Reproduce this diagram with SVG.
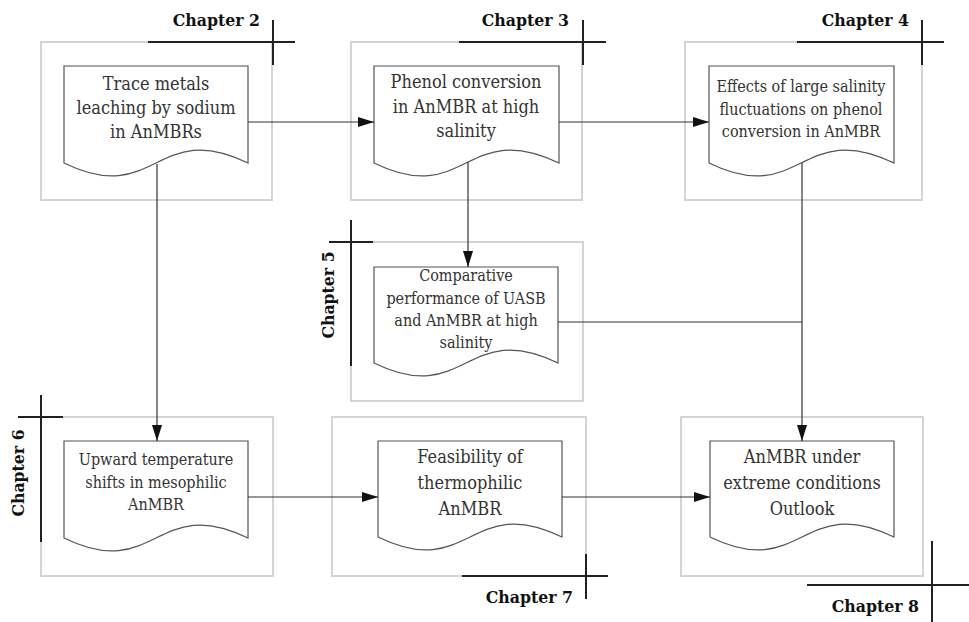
<svg xmlns="http://www.w3.org/2000/svg" width="969" height="622" viewBox="0 0 969 622">
<defs>
<marker id="arr" markerUnits="userSpaceOnUse" markerWidth="16" markerHeight="10" refX="16" refY="5" orient="auto"><path d="M0,0 L16,5 L0,10 z" fill="#111"/></marker>
<style>
.box{fill:none;stroke:#d4d4d4;stroke-width:2}
.doc{fill:#fff;stroke:#555;stroke-width:1.2}
.cross{stroke:#222;stroke-width:2;fill:none}
.con{stroke:#333;stroke-width:1.2;fill:none}
text{font-family:'DejaVu Serif Condensed','DejaVu Serif',serif;font-stretch:condensed}
.t{fill:#333;text-anchor:middle}
.t20{font-size:18px}
.t18{font-size:16px}
.ch{font-weight:bold;font-size:17.5px;fill:#111}
</style>
</defs>
<rect width="969" height="622" fill="#fff"/>

<g id="ch2">
<rect class="box" x="41" y="42" width="231" height="158"/>
<path class="cross" d="M148,42 H295 M273,20 V65"/>
<text class="ch" x="260" y="26" text-anchor="end">Chapter 2</text>
<path class="doc" d="M64,163 V66 H248 V163 C156,118 156,208 64,163 Z"/>
<text class="t t20"><tspan x="156" y="90">Trace metals</tspan><tspan x="156" y="114">leaching by sodium</tspan><tspan x="156" y="138">in AnMBRs</tspan></text>
</g>

<g id="ch3">
<rect class="box" x="351" y="42" width="231" height="158"/>
<path class="cross" d="M459,42 H606 M583,20 V65"/>
<text class="ch" x="569" y="26" text-anchor="end">Chapter 3</text>
<path class="doc" d="M374,163 V66 H559 V163 C466,118 466,208 374,163 Z"/>
<text class="t t20"><tspan x="466" y="88">Phenol conversion</tspan><tspan x="466" y="113">in AnMBR at high</tspan><tspan x="466" y="137">salinity</tspan></text>
</g>

<g id="ch4">
<rect class="box" x="685" y="42" width="237" height="158"/>
<path class="cross" d="M797,42 H944 M922,20 V65"/>
<text class="ch" x="909" y="26" text-anchor="end">Chapter 4</text>
<path class="doc" d="M709,163 V66 H894 V163 C801,118 801,208 709,163 Z"/>
<text class="t t18"><tspan x="801" y="92">Effects of large salinity</tspan><tspan x="801" y="115">fluctuations on phenol</tspan><tspan x="801" y="137">conversion in AnMBR</tspan></text>
</g>

<g id="ch5">
<rect class="box" x="351" y="242" width="232" height="159"/>
<path class="cross" d="M329,242 H373 M351,220 V366"/>
<text class="ch" transform="translate(334,295) rotate(-90)" text-anchor="middle">Chapter 5</text>
<path class="doc" d="M374,363 V267 H558 V363 C466,318 466,408 374,363 Z"/>
<text class="t t18"><tspan x="466" y="281">Comparative</tspan><tspan x="466" y="304">performance of UASB</tspan><tspan x="466" y="326">and AnMBR at high</tspan><tspan x="466" y="348">salinity</tspan></text>
</g>

<g id="ch6">
<rect class="box" x="41" y="417" width="232" height="159"/>
<path class="cross" d="M18,417 H63 M41,395 V542"/>
<text class="ch" transform="translate(24,473) rotate(-90)" text-anchor="middle">Chapter 6</text>
<path class="doc" d="M64,538 V441 H248 V538 C156,493 156,583 64,538 Z"/>
<text class="t t18"><tspan x="156" y="465">Upward temperature</tspan><tspan x="156" y="488">shifts in mesophilic</tspan><tspan x="156" y="510">AnMBR</tspan></text>
</g>

<g id="ch7">
<rect class="box" x="332" y="417" width="254" height="159"/>
<path class="cross" d="M462,576 H608 M586,554 V599"/>
<text class="ch" x="573" y="603" text-anchor="end">Chapter 7</text>
<path class="doc" d="M378,537 V441 H562 V537 C470,492 470,582 378,537 Z"/>
<text class="t t20"><tspan x="470" y="463">Feasibility of</tspan><tspan x="470" y="489">thermophilic</tspan><tspan x="470" y="515">AnMBR</tspan></text>
</g>

<g id="ch8">
<rect class="box" x="681" y="417" width="242" height="159"/>
<path class="cross" d="M807,585 H969 M932,541 V622"/>
<text class="ch" x="919" y="612" text-anchor="end">Chapter 8</text>
<path class="doc" d="M710,537 V441 H894 V537 C802,492 802,582 710,537 Z"/>
<text class="t t20"><tspan x="802" y="463">AnMBR under</tspan><tspan x="802" y="489">extreme conditions</tspan><tspan x="802" y="515">Outlook</tspan></text>
</g>

<g id="connectors">
<path class="con" d="M248,122 H374" marker-end="url(#arr)"/>
<path class="con" d="M559,122 H709" marker-end="url(#arr)"/>
<path class="con" d="M157,164 V441" marker-end="url(#arr)"/>
<path class="con" d="M468,162 V267" marker-end="url(#arr)"/>
<path class="con" d="M802,163 V441" marker-end="url(#arr)"/>
<path class="con" d="M558,322 H802"/>
<path class="con" d="M248,497 H378" marker-end="url(#arr)"/>
<path class="con" d="M562,497 H710" marker-end="url(#arr)"/>
</g>
</svg>
